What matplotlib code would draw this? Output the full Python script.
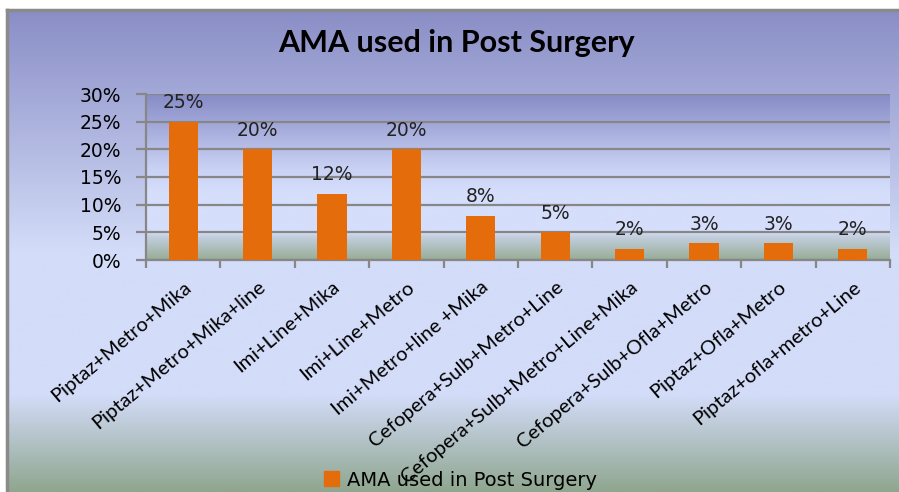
import matplotlib
matplotlib.use("Agg")
import matplotlib.pyplot as plt
import numpy as np
from matplotlib.colors import LinearSegmentedColormap
from matplotlib.patches import Patch

categories = ["Piptaz+Metro+Mika", "Piptaz+Metro+Mika+line", "Imi+Line+Mika",
              "Imi+Line+Metro", "Imi+Metro+line +Mika", "Cefopera+Sulb+Metro+Line",
              "Cefopera+Sulb+Metro+Line+Mika", "Cefopera+Sulb+Ofla+Metro",
              "Piptaz+Ofla+Metro", "Piptaz+ofla+metro+Line"]
values = [25, 20, 12, 20, 8, 5, 2, 3, 3, 2]
yticks = [0, 5, 10, 15, 20, 25, 30]
series_name = "AMA used in Post Surgery"

bar_color = "#E46C0A"
grid_color = "#878787"

fig = plt.figure(figsize=(8.99, 4.92), dpi=100)
fig.patch.set_facecolor("white")

# outer chart background gradient
bg = fig.add_axes([8 / 899, 0, 1 - 8 / 899, 1 - 11 / 492], zorder=-10)
outer_cmap = LinearSegmentedColormap.from_list(
    "outer", [(0.0, "#8a8ec6"), (0.5, "#d3dcf8"), (0.8, "#d3dcf8"), (1.0, "#8fa68f")])
bg.imshow(np.linspace(0, 1, 256).reshape(-1, 1), aspect="auto", cmap=outer_cmap,
          extent=[0, 1, 0, 1])
bg.set_axis_off()
# gray border on top and left
fig.add_artist(plt.Line2D([7 / 899, 1], [1 - 10 / 492, 1 - 10 / 492], color="#8a8a8a", lw=2.5))
fig.add_artist(plt.Line2D([7 / 899, 7 / 899], [0, 1 - 10 / 492], color="#8a8a8a", lw=2.5))

ax = fig.add_axes([146 / 899, 1 - 260 / 492, (890 - 146) / 899, (260 - 94) / 492])
x = np.arange(len(categories))

# plot area gradient
inner_cmap = LinearSegmentedColormap.from_list(
    "inner", [(0.0, "#878cc6"), (0.45, "#c9d2f4"), (0.6, "#d5defb"),
              (0.83, "#d5defb"), (0.86, "#c3cfdf"), (1.0, "#97ad96")])
ax.imshow(np.linspace(0, 1, 256).reshape(-1, 1), aspect="auto", cmap=inner_cmap,
          extent=[-0.5, len(categories) - 0.5, 0, 30], zorder=0)

ax.bar(x, values, width=0.39, color=bar_color, zorder=3)
for xi, v in zip(x, values):
    ax.annotate(f"{v}%", (xi, v), xytext=(0, 7), textcoords="offset points",
                ha="center", va="bottom", fontsize=13.5, color="#222222",
                family="DejaVu Sans", zorder=4)

ax.set_xlim(-0.5, len(categories) - 0.5)
ax.set_ylim(0, 30)
ax.set_yticks(yticks)
ax.set_yticklabels([f"{t}%" for t in yticks], fontsize=13.5, family="DejaVu Sans")
ax.yaxis.grid(True, color=grid_color, lw=1.6, zorder=1)
ax.set_axisbelow(False)
for line in ax.get_ygridlines():
    line.set_zorder(1)

ax.set_xticks(x)
ax.set_xticklabels(categories, rotation=40, ha="right", rotation_mode="anchor",
                   fontsize=14.5, family="Lato")
ax.tick_params(axis="x", length=0, pad=13)
ax.set_xticks(np.arange(-0.5, len(categories), 1), minor=True)
ax.tick_params(axis="x", which="minor", length=6, width=1.6, color=grid_color)
ax.tick_params(axis="y", length=7, width=1.6, color=grid_color, pad=11)

for side in ["top", "right"]:
    ax.spines[side].set_visible(False)
for side in ["left", "bottom"]:
    ax.spines[side].set_color(grid_color)
    ax.spines[side].set_linewidth(1.6)

fig.text(0.508, 1 - 43 / 492, "AMA used in Post Surgery", ha="center", va="center",
         fontsize=22, fontweight="bold", family="Lato")

fig.legend(handles=[Patch(color=bar_color, label=series_name)], loc="center",
           bbox_to_anchor=(0.512, 1 - 480 / 492), frameon=False,
           prop={"family": "DejaVu Sans", "size": 14}, handlelength=0.8,
           handleheight=0.8, handletextpad=0.4)

fig.savefig("out.png", dpi=100)
